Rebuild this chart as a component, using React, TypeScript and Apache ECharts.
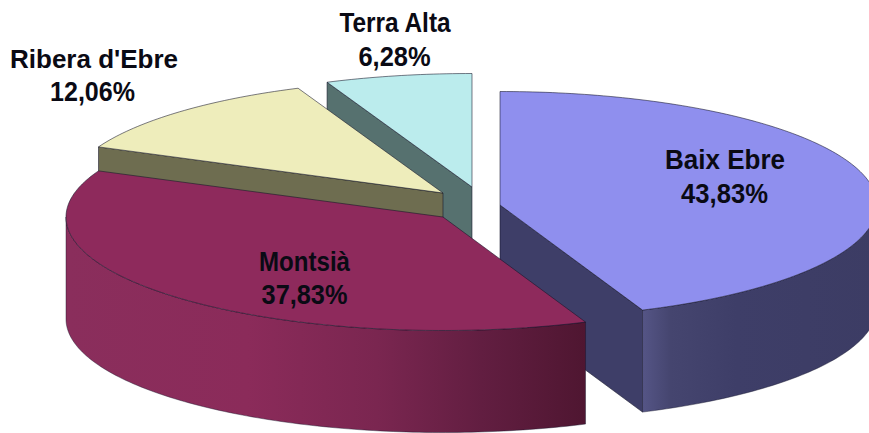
import React, { useEffect, useRef } from "react";
import * as echarts from "echarts";

const categories = ["Baix Ebre", "Montsià", "Ribera d'Ebre", "Terra Alta"];
const values = [43.83, 37.83, 12.06, 6.28];
const percentLabels = ["43,83%", "37,83%", "12,06%", "6,28%"];

const RX = 377;
const RY = 113.5;
const DEPTH = 102;
const apexes = [[500, 205], [443, 217], [443, 193], [472, 187]];
const namePositions = [[725, 160], [304.5, 261], [94, 59], [395, 22]];
const percentPositions = [[724.5, 194], [304.5, 295], [92.5, 92], [394.5, 57]];
const nameFontSizes = [28, 28, 26, 28];
const nameScales = [0.93, 0.86, 1, 0.872];
const percentScales = [0.916, 0.905, 0.895, 0.91];
const paintOrder = [2, 3, 1, 0];
const topColors = ["#8F8FEE", "#8E2A5C", "#EEEDBB", "#BBECED"];
const faceColors = ["#3E3E68", "#5A1838", "#6E6D50", "#56716F"];
const rimStops = [
  [[0, "#555586"], [0.12, "#45456F"], [0.4, "#3E3E68"], [1, "#3C3C64"]],
  [[0, "#8A2E5C"], [0.35, "#8B2B5A"], [0.6, "#7A2650"], [0.8, "#621E41"], [1, "#4F1631"]],
];
const EDGE = "rgba(20,20,40,0.7)";

const total = values.reduce((a, b) => a + b, 0);

function rim(apex: number[], deg: number, dy = 0) {
  const r = (deg * Math.PI) / 180;
  return [apex[0] + RX * Math.sin(r), apex[1] - RY * Math.cos(r) + dy];
}

function arc(apex: number[], from: number, to: number, dy = 0) {
  const pts: number[][] = [];
  const n = Math.max(2, Math.ceil(Math.abs(to - from)));
  for (let i = 0; i <= n; i++) pts.push(rim(apex, from + ((to - from) * i) / n, dy));
  return pts;
}

function label(text: string, pos: number[], fontSize: number, scaleX: number) {
  return {
    type: "text",
    z2: 100,
    x: pos[0],
    y: pos[1],
    scaleX,
    style: {
      x: 0,
      y: 0,
      text,
      align: "center",
      verticalAlign: "middle",
      fill: "#0A0A14",
      fontFamily: "Liberation Sans",
      fontWeight: "bold",
      fontSize,
    },
  };
}

function renderSlice(params: any, api: any) {
  const i = params.dataIndex;
  const value = api.value(0);
  let before = 0;
  for (let k = 0; k < i; k++) before += values[k];
  const start = (before / total) * 360;
  const end = start + (value / total) * 360;
  const apex = apexes[i];
  const base = paintOrder[i] * 10 + 1;
  const children: any[] = [];

  const radialFace = (deg: number) => {
    const a = rim(apex, deg);
    const poly = [apex, a, [a[0], a[1] + DEPTH], [apex[0], apex[1] + DEPTH]];
    children.push({
      type: "polygon",
      z2: base,
      shape: { points: poly },
      style: { fill: faceColors[i], stroke: EDGE, lineWidth: 0.8 },
    });
  };
  if (Math.sin((start * Math.PI) / 180) < -0.001) radialFace(start);
  if (Math.sin((end * Math.PI) / 180) > 0.001) radialFace(end);

  const a0 = Math.max(start, 90);
  const a1 = Math.min(end, 270);
  if (a1 > a0) {
    const upper = arc(apex, a0, a1);
    const lower = arc(apex, a1, a0, DEPTH);
    children.push({
      type: "polygon",
      z2: base + 1,
      shape: { points: upper.concat(lower) },
      style: {
        fill: new echarts.graphic.LinearGradient(
          0,
          0,
          1,
          0,
          rimStops[i].map(([offset, color]) => ({ offset: offset as number, color: color as string })),
        ),
        stroke: EDGE,
        lineWidth: 0.6,
      },
    });
  }

  const top = [apex].concat(arc(apex, start, end));
  children.push({
    type: "polygon",
    z2: base + 2,
    shape: { points: top },
    style: { fill: topColors[i], stroke: EDGE, lineWidth: 0.8 },
  });

  children.push(label(categories[i], namePositions[i], nameFontSizes[i], nameScales[i]));
  children.push(label(percentLabels[i], percentPositions[i], 28, percentScales[i]));
  return { type: "group", children };
}

export default function App() {
  const ref = useRef<HTMLDivElement>(null);
  useEffect(() => {
    document.body.style.margin = "0";
    const chart = echarts.init(ref.current!, undefined, { renderer: "svg" });
    chart.setOption({
      animation: false,
      backgroundColor: "#FFFFFF",
      series: [
        {
          type: "custom",
          coordinateSystem: "none",
          clip: false,
          silent: true,
          data: values.map((v, i) => ({ name: categories[i], value: [v] })),
          renderItem: renderSlice,
        },
      ],
    });
    return () => chart.dispose();
  }, []);
  return <div ref={ref} style={{ width: 869, height: 433 }} />;
}
